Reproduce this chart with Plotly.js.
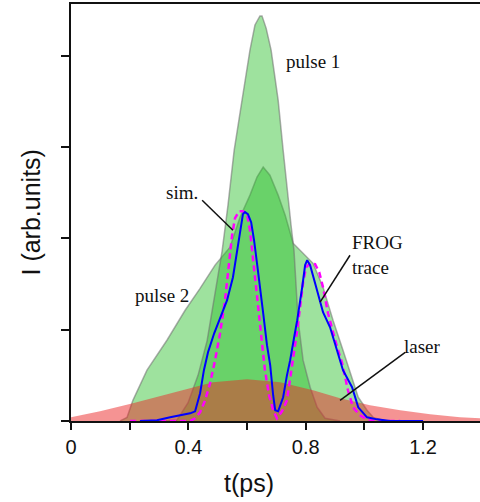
<!DOCTYPE html>
<html>
<head>
<meta charset="utf-8">
<script src="https://cdn.plot.ly/plotly-3.0.1.min.js"></script>
<style>html,body{margin:0;padding:0;background:#fff;}#chart{width:480px;height:502px;}</style>
</head>
<body>
<div id="chart"></div>
<script>
// ---- data (t in ps, I in arb. units) ----
const pulse1T = [0.32,0.361,0.399,0.433,0.464,0.491,0.515,0.535,0.556,0.583,0.610,0.627,0.644,0.651,0.665,0.682,0.706,0.723,0.740,0.750,0.760,0.767,0.774,0.791,0.815,0.839,0.866,0.917];
const pulse1I = [0,0.005,0.10,0.25,0.44,0.69,0.93,1.18,1.48,1.756,2.03,2.167,2.217,2.217,2.15,2.03,1.756,1.482,1.208,1.071,0.934,0.715,0.552,0.333,0.185,0.075,0.015,0];

const pulse2T = [0.167,0.191,0.211,0.259,0.327,0.389,0.44,0.491,0.542,0.576,0.610,0.634,0.655,0.678,0.706,0.730,0.757,0.791,0.825,0.859,0.893,0.927,0.958,0.979,1.009,1.030,1.071];
const pulse2I = [0,0.02,0.113,0.278,0.442,0.606,0.726,0.853,0.951,1.115,1.236,1.335,1.39,1.345,1.236,1.126,0.973,0.918,0.863,0.732,0.552,0.387,0.240,0.130,0.059,0.020,0];

const laserT = [0,0.099,0.211,0.303,0.372,0.484,0.600,0.713,0.825,0.917,1.019,1.122,1.224,1.326,1.394];
const laserI = [0.02,0.053,0.097,0.135,0.163,0.212,0.228,0.212,0.168,0.124,0.086,0.059,0.037,0.020,0.015];

const frogT = [0.235,0.293,0.338,0.372,0.406,0.423,0.44,0.453,0.467,0.488,0.508,0.532,0.552,0.569,0.586,0.593,0.603,0.614,0.624,0.634,0.644,0.655,0.668,0.679,0.689,0.696,0.706,0.723,0.736,0.747,0.760,0.771,0.788,0.798,0.805,0.815,0.832,0.849,0.859,0.883,0.907,0.927,0.958,0.979,1.009,1.043,1.088,1.2];
const frogI = [0,0.004,0.02,0.031,0.042,0.053,0.152,0.278,0.376,0.480,0.562,0.661,0.787,0.951,1.132,1.143,1.132,1.088,0.989,0.863,0.715,0.59,0.415,0.305,0.141,0.059,0.053,0.130,0.250,0.333,0.453,0.552,0.732,0.853,0.880,0.853,0.754,0.644,0.595,0.513,0.387,0.278,0.185,0.075,0.020,0.009,0,0];

const simT = [0.201,0.406,0.423,0.44,0.457,0.474,0.491,0.508,0.525,0.539,0.549,0.559,0.573,0.586,0.600,0.610,0.621,0.634,0.648,0.661,0.675,0.689,0.702,0.719,0.736,0.747,0.757,0.771,0.781,0.791,0.801,0.815,0.832,0.846,0.859,0.876,0.900,0.924,0.944,0.961,0.985,1.009,1.037,1.122];
const simI = [0,0,0.015,0.048,0.113,0.206,0.332,0.48,0.661,0.853,1.017,1.11,1.148,1.148,1.132,1.044,0.880,0.661,0.442,0.278,0.141,0.059,0.015,0.053,0.113,0.222,0.343,0.497,0.634,0.759,0.841,0.863,0.858,0.814,0.732,0.590,0.442,0.316,0.168,0.075,0.031,0.009,0,0];

const xTickVals = [0,0.2,0.4,0.6,0.8,1.0,1.2];
const xTickText = ['0','','0.4','','0.8','','1.2'];
const yTickVals = [0,0.5,1,1.5,2];

const serif = 'Liberation Serif, Times New Roman, serif';
const sans = 'Liberation Sans, Arial, sans-serif';

const greenFill = 'rgba(40,190,40,0.45)';
const greenEdge = 'rgba(110,110,110,0.55)';

const traces = [
  {x: pulse2T, y: pulse2I, type:'scatter', mode:'lines', fill:'tozeroy', fillcolor: greenFill, line:{color: greenEdge, width:1.5}, hoverinfo:'skip'},
  {x: pulse1T, y: pulse1I, type:'scatter', mode:'lines', fill:'tozeroy', fillcolor: greenFill, line:{color: greenEdge, width:1.5}, hoverinfo:'skip'},
  {x: laserT, y: laserI, type:'scatter', mode:'lines', fill:'tozeroy', fillcolor:'rgba(235,40,40,0.5)', line:{color:'rgba(235,40,40,0)', width:0}, line_shape:'spline', hoverinfo:'skip'},
  {x: simT, y: simI, type:'scatter', mode:'lines', line:{color:'#ff00ff', width:2.5, dash:'6px,4px'}, hoverinfo:'skip'},
  {x: frogT, y: frogI, type:'scatter', mode:'lines', line:{color:'#0000ff', width:2}, hoverinfo:'skip'}
];

const txt = (t, x, y, xa) => ({text:t, x:x, y:y, xref:'x', yref:'y', showarrow:false, xanchor: xa||'center', yanchor:'middle', font:{family: serif, size:19, color:'#111'}});

const layout = {
  width:480, height:502,
  margin:{l:71, r:0, t:4, b:81},
  paper_bgcolor:'#fff', plot_bgcolor:'#fff',
  showlegend:false,
  xaxis:{range:[0,1.394], tickmode:'array', tickvals:xTickVals, ticktext:xTickText, ticks:'outside', ticklen:7, tickwidth:2, tickcolor:'#111',
         showline:true, linewidth:2, linecolor:'#111', mirror:true, showgrid:false, zeroline:false,
         tickfont:{family: sans, size:20, color:'#111'}},
  yaxis:{range:[0,2.282], tickmode:'array', tickvals:yTickVals, showticklabels:false, ticks:'outside', ticklen:8, tickwidth:2, tickcolor:'#111',
         showline:true, linewidth:2, linecolor:'#111', mirror:false, showgrid:false, zeroline:false},
  annotations:[
    txt('pulse 1', 0.825, 1.97),
    txt('sim.', 0.378, 1.251),
    txt('pulse 2', 0.31, 0.688),
    txt('FROG', 0.951, 0.978, 'left'),
    txt('trace', 0.951, 0.84, 'left'),
    txt('laser', 1.197, 0.409),
    {text:'t(ps)', xref:'x', yref:'paper', x:0.607, y:-0.149, showarrow:false, xanchor:'center', yanchor:'middle', font:{family: sans, size:25, color:'#111'}},
    {text:'I (arb.units)', xref:'paper', yref:'paper', x:-0.0978, y:0.5, showarrow:false, xanchor:'center', yanchor:'middle', textangle:-90, font:{family: sans, size:25, color:'#111'}}
  ],
  shapes:[
    {type:'line', xref:'x', yref:'y', x0:0.447, y0:1.208, x1:0.552, y1:1.044, line:{color:'#111', width:1.5}},
    {type:'line', xref:'x', yref:'y', x0:0.951, y0:0.907, x1:0.849, y1:0.65, line:{color:'#111', width:1.5}},
    {type:'line', xref:'x', yref:'y', x0:1.139, y0:0.376, x1:0.917, y1:0.113, line:{color:'#111', width:1.5}}
  ]
};

Plotly.newPlot('chart', traces, layout, {staticPlot:true, displayModeBar:false});
</script>
</body>
</html>
